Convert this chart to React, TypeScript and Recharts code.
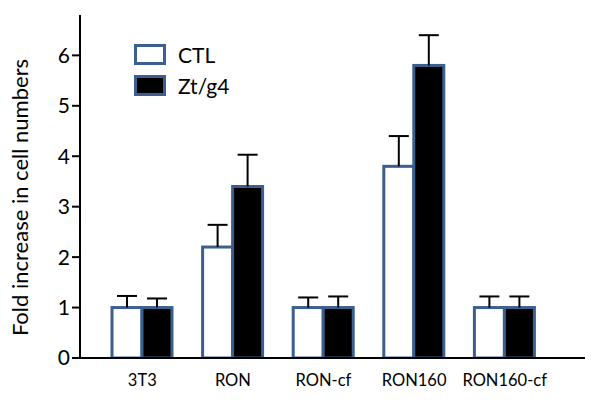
import { BarChart, Bar, XAxis, YAxis } from "recharts";

const categories = ["3T3", "RON", "RON-cf", "RON160", "RON160-cf"];
const ctlValues = [1, 2.2, 1, 3.8, 1];
const ctlErrors = [0.23, 0.44, 0.2, 0.6, 0.22];
const ztValues = [1, 3.4, 1, 5.8, 1];
const ztErrors = [0.18, 0.63, 0.22, 0.6, 0.22];
const yTicks = [0, 1, 2, 3, 4, 5, 6];

const data = categories.map((name, i) => ({
  name,
  ctl: ctlValues[i],
  ctlErr: ctlErrors[i],
  zt: ztValues[i],
  ztErr: ztErrors[i],
}));

const BLUE = "#3b5f8f";
const FONT = "Lato, 'Open Sans', sans-serif";

function BarWithError(props: any) {
  const { x, y, width, height, payload, fill, errKey, valKey } = props;
  const value = payload[valKey];
  const err = payload[errKey];
  const pxPerUnit = height / value;
  const cx = x + width / 2;
  const yTop = y - err * pxPerUnit;
  return (
    <g>
      <rect x={x} y={y} width={width} height={height} fill={fill} stroke={BLUE} strokeWidth={3} />
      <line x1={cx} y1={y} x2={cx} y2={yTop} stroke="#000" strokeWidth={2} />
      <line x1={cx - 10} y1={yTop} x2={cx + 10} y2={yTop} stroke="#000" strokeWidth={2} />
    </g>
  );
}

function LegendBox() {
  const items = [
    { label: "CTL", fill: "#fff" },
    { label: "Zt/g4", fill: "#000" },
  ];
  return (
    <div style={{ position: "absolute", left: 134, top: 39, fontFamily: FONT, fontSize: 21 }}>
      {items.map((it) => (
        <div key={it.label} style={{ display: "flex", alignItems: "center", height: 31 }}>
          <svg width={34} height={22}>
            <rect x={1.5} y={1.5} width={29} height={18} fill={it.fill} stroke={BLUE} strokeWidth={3} />
          </svg>
          <span style={{ marginLeft: 10, color: "#000" }}>{it.label}</span>
        </div>
      ))}
    </div>
  );
}

export default function App() {
  return (
    <div style={{ position: "absolute", left: 0, top: 0, width: 600, height: 400, background: "#fff" }}>
      <BarChart
        width={600}
        height={400}
        data={data}
        margin={{ top: 15, right: 15, bottom: 0, left: 0 }}
        barGap={0}
        barSize={30}
      >
        <XAxis
          dataKey="name"
          height={42}
          padding={{ left: 17, right: 35 }}
          axisLine={{ stroke: "#000", strokeWidth: 2 }}
          tickLine={false}
          tick={{ fontSize: 16.5, fill: "#000", fontFamily: FONT }}
          dy={8}
        />
        <YAxis
          width={80}
          domain={[0, 6.8]}
          ticks={yTicks}
          allowDataOverflow
          axisLine={{ stroke: "#000", strokeWidth: 2 }}
          tickLine={{ stroke: "#000", strokeWidth: 2 }}
          tickSize={8}
          tick={{ fontSize: 21, fill: "#000", fontFamily: FONT }}
          label={{
            value: "Fold increase in cell numbers",
            angle: -90,
            position: "insideLeft",
            dx: 15,
            dy: 11,
            style: { fontSize: 22, fill: "#000", fontFamily: FONT, textAnchor: "middle" },
          }}
        />
        <Bar
          dataKey="ctl"
          fill="#fff"
          isAnimationActive={false}
          shape={(p: any) => <BarWithError {...p} fill="#fff" valKey="ctl" errKey="ctlErr" />}
        />
        <Bar
          dataKey="zt"
          fill="#000"
          isAnimationActive={false}
          shape={(p: any) => <BarWithError {...p} fill="#000" valKey="zt" errKey="ztErr" />}
        />
      </BarChart>
      <LegendBox />
    </div>
  );
}
